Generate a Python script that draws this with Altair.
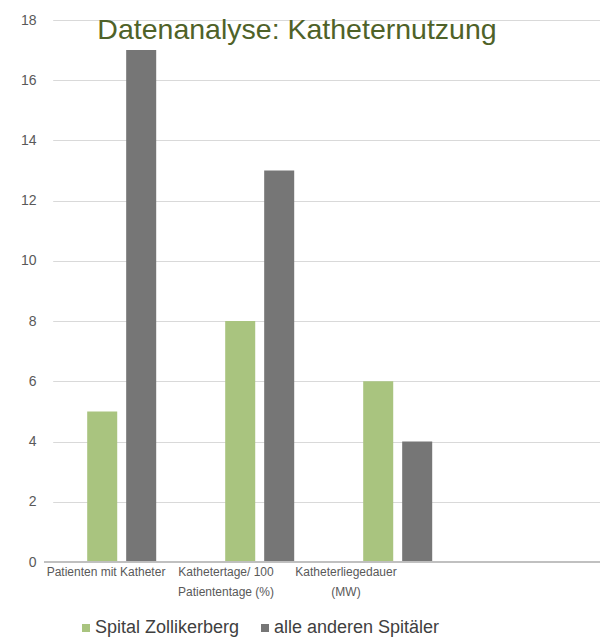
import altair as alt
import pandas as pd

categories = ["Patienten mit Katheter", "Kathetertage/ 100|Patiententage (%)", "Katheterliegedauer|(MW)"]
series = ["Spital Zollikerberg", "alle anderen Spitäler"]
zollikerberg = [5, 8, 6]
andere = [17, 13, 4]
colors = ["#A9C47F", "#767676"]
y_ticks = [0, 2, 4, 6, 8, 10, 12, 14, 16, 18]

rows = []
for c, a, b in zip(categories, zollikerberg, andere):
    rows.append({"Kategorie": c, "Serie": series[0], "Wert": a})
    rows.append({"Kategorie": c, "Serie": series[1], "Wert": b})
df = pd.DataFrame(rows)

font = "Liberation Sans"

bars = alt.Chart(df).mark_bar().encode(
    x=alt.X("Kategorie:N", sort=categories,
            scale=alt.Scale(domain=categories + [" "], paddingInner=0.5, paddingOuter=0.25,
                            range=[8.7, 560.7]),
            axis=alt.Axis(title=None, labelAngle=0, domain=False, ticks=False,
                          labelExpr="split(datum.label, '|')",
                          labelOffset=alt.ExprRef("-15.7 - 54*datum.index"),
                          labelFont=font, labelFontSize=12, labelColor="#595959",
                          labelPadding=4, labelLineHeight=20)),
    xOffset=alt.XOffset("Serie:N", sort=series,
                        scale=alt.Scale(paddingInner=0.23, paddingOuter=0)),
    y=alt.Y("Wert:Q", scale=alt.Scale(domain=[0, 18], nice=False),
            axis=alt.Axis(title=None, values=y_ticks, domain=False, ticks=False,
                          labelFont=font, labelFontSize=14, labelColor="#595959",
                          labelPadding=8, gridColor="#D9D9D9", gridWidth=1)),
    color=alt.Color("Serie:N", sort=series,
                    scale=alt.Scale(domain=series, range=colors),
                    legend=alt.Legend(title=None, orient="none", direction="horizontal",
                                      legendX=33, legendY=599,
                                      symbolType="square", symbolSize=64,
                                      symbolStrokeWidth=0, labelLimit=400,
                                      labelFont=font, labelFontSize=18,
                                      labelColor="#404040", columnPadding=16,
                                      labelOffset=0)),
)

zero = alt.Chart(df).mark_rule(color="#BFBFBF", strokeWidth=1).encode(y=alt.datum(0))

chart = alt.layer(bars, zero).properties(
    width=556, height=542,
    padding={"left": 44, "top": 20, "right": 0, "bottom": 75},
    autosize=alt.AutoSizeParams(type="none"),
    title=alt.TitleParams("Datenanalyse: Katheternutzung", font=font, fontSize=28.5,
                          fontWeight="normal", color="#4F6228", anchor="middle",
                          dx=-25, offset=-31),
).configure_view(stroke=None)

chart.save("out.html", embed_options={"renderer": "svg", "actions": False})
